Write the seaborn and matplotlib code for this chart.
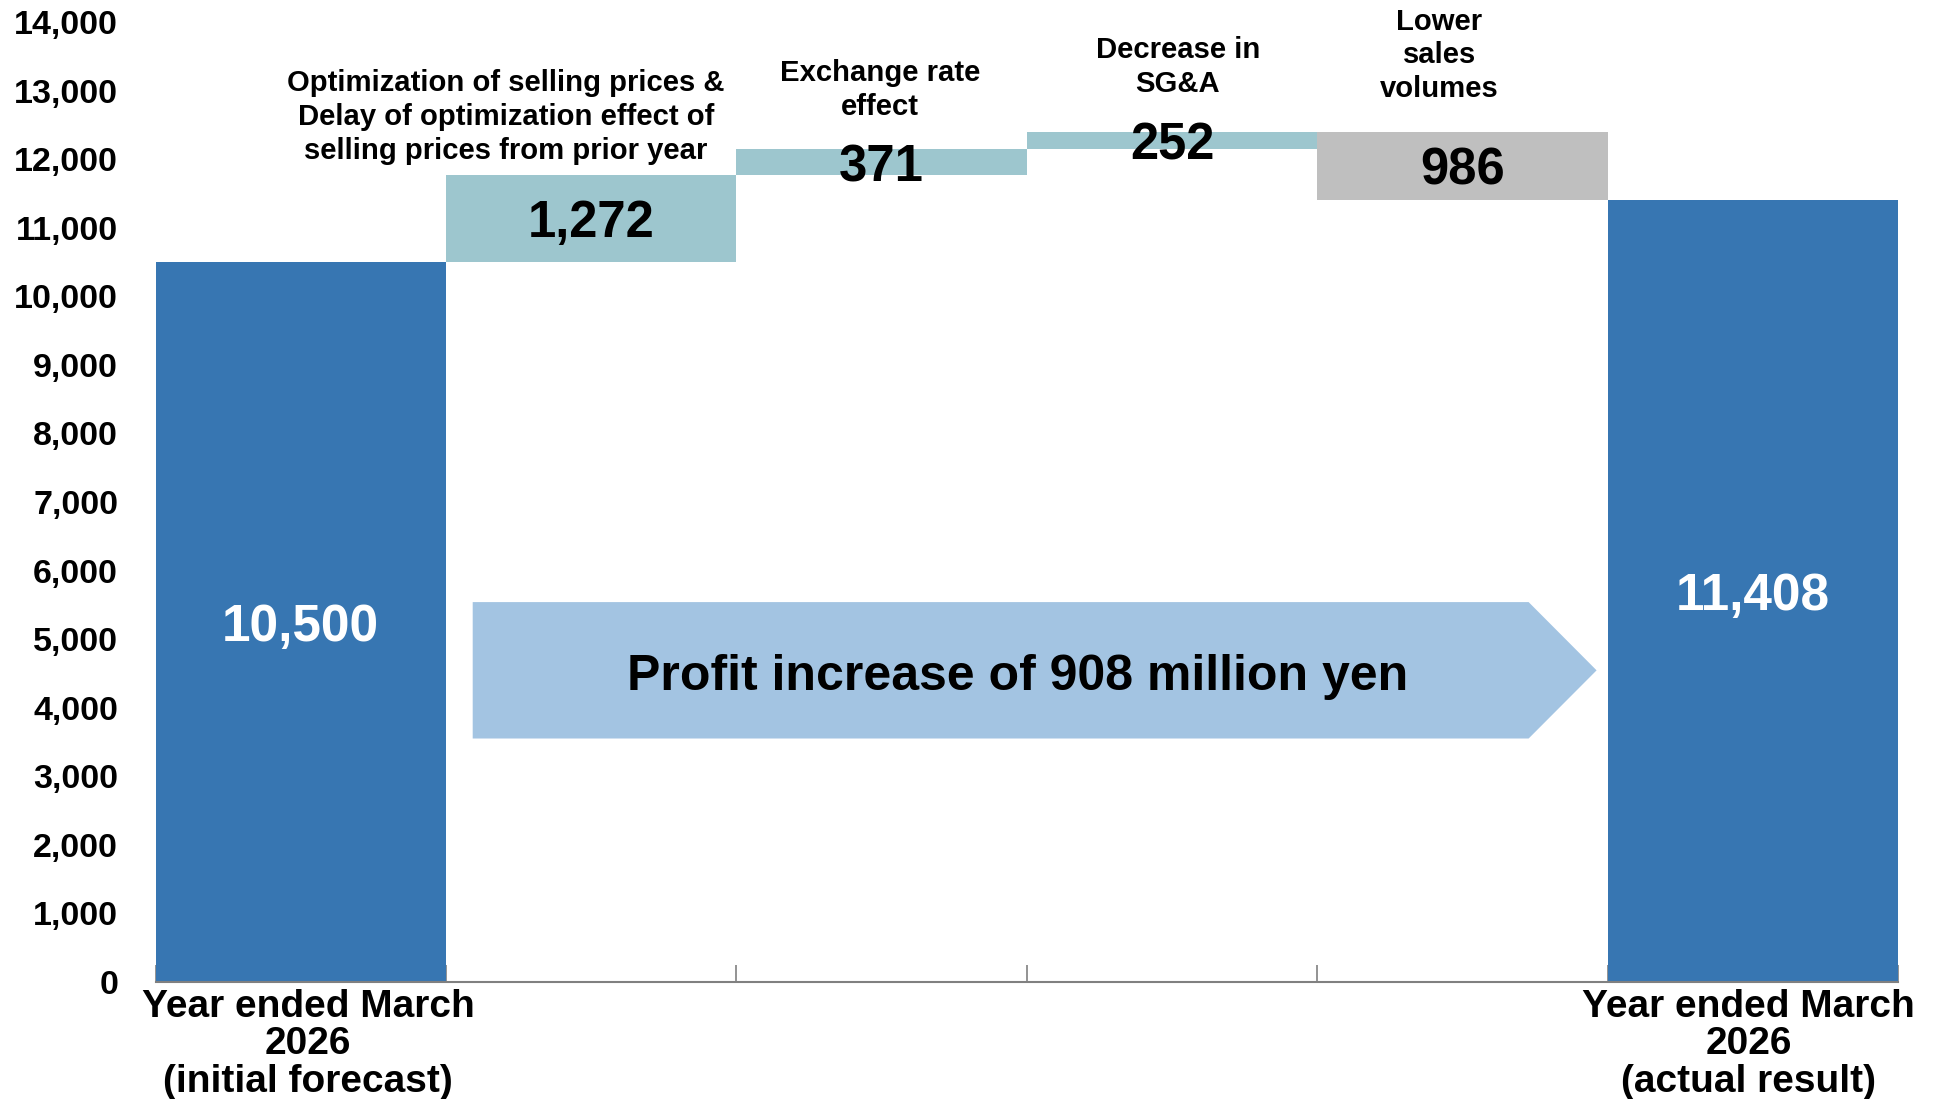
import matplotlib
matplotlib.use("Agg")
import matplotlib.pyplot as plt
import seaborn as sns
import pandas as pd
import numpy as np
from matplotlib.patches import Polygon
from matplotlib.ticker import FuncFormatter

# ---- data -------------------------------------------------------------
categories = ["initial", "price", "fx", "sga", "volume", "actual"]
start_value = 10500
change_values = [1272, 371, 252, -986]
end_value = 11408

change_notes = [
    "Optimization of selling prices &\nDelay of optimization effect of\nselling prices from prior year",
    "Exchange rate\neffect",
    "Decrease in\nSG&A",
    "Lower\nsales\nvolumes",
]
total_labels = ["Year ended March\n2026\n(initial forecast)",
                "Year ended March\n2026\n(actual result)"]
summary_text = "Profit increase of 908 million yen"
y_ticks = list(range(0, 14001, 1000))

# ---- colours ----------------------------------------------------------
total_color = "#3776b2"
up_color = "#9dc6ce"
down_color = "#bfbfbf"
arrow_color = "#a3c4e2"
axis_gray = "#808080"

# ---- waterfall table --------------------------------------------------
bottoms, heights, colors = [0], [start_value], [total_color]
running = start_value
for d in change_values:
    bottoms.append(min(running, running + d))
    heights.append(abs(d))
    colors.append(up_color if d >= 0 else down_color)
    running += d
bottoms.append(0)
heights.append(end_value)
colors.append(total_color)
df = pd.DataFrame({"category": categories, "bottom": bottoms, "height": heights})

sns.set_style("white")
plt.rcParams["font.family"] = ["Liberation Sans", "DejaVu Sans"]
plt.rcParams["font.weight"] = "bold"
plt.rcParams["text.color"] = "black"
plt.rcParams["xtick.labelcolor"] = "black"
plt.rcParams["ytick.labelcolor"] = "black"

fig = plt.figure(figsize=(19.35, 10.99), dpi=100)
ax = fig.add_axes([0.0804, 0.1065, 0.9005, 0.8735])

sns.barplot(data=df, x="category", y="height", order=categories,
            bottom=df["bottom"].to_numpy(), width=1.0, errorbar=None,
            color=total_color, saturation=1, linewidth=0, ax=ax)
for patch, c in zip(ax.patches, colors):
    patch.set_facecolor(c)
    patch.set_edgecolor("none")

ax.set_xlim(-0.5, 5.5)
ax.set_ylim(0, 14000)
ax.set_xlabel("")
ax.set_ylabel("")

# value labels
value_labels = [start_value] + [abs(d) for d in change_values] + [end_value]
for i, (b, h, v) in enumerate(zip(bottoms, heights, value_labels)):
    is_total = i in (0, len(categories) - 1)
    ax.text(i, b + h / 2, f"{v:,}", ha="center", va="center_baseline",
            fontsize=37 if is_total else 36.5, fontweight="bold",
            color="white" if is_total else "black", zorder=5)

# notes above the change bars
note_pos = [(0.707, 12615), (1.995, 13008), (3.02, 13350), (3.92, 13512)]
for (x, y), note in zip(note_pos, change_notes):
    ax.text(x, y, note, ha="center", va="center", fontsize=21.1,
            fontweight="bold", linespacing=1.27, color="black", zorder=5)

# summary arrow
arrow = Polygon([(0.182, 0.2536), (0.788, 0.2536), (0.827, 0.3246),
                 (0.788, 0.3957), (0.182, 0.3957)], closed=True,
                transform=ax.transAxes, facecolor=arrow_color,
                edgecolor="none", zorder=3)
ax.add_patch(arrow)
ax.text(0.495, 0.318, summary_text, transform=ax.transAxes, ha="center",
        va="center", fontsize=36, fontweight="bold", color="black", zorder=4)

# axes styling
for side in ("left", "top", "right"):
    ax.spines[side].set_visible(False)
ax.spines["bottom"].set_color(axis_gray)
ax.spines["bottom"].set_linewidth(1.5)

ax.set_yticks(y_ticks)
ax.yaxis.set_major_formatter(FuncFormatter(lambda v, _: f"{int(v):,}"))
ax.tick_params(axis="y", left=False, length=0, pad=27, labelsize=24.5,
               labelcolor="black")
for lbl in ax.get_yticklabels():
    lbl.set_fontweight("bold")

ax.set_xticks(np.arange(-0.5, 6.0, 1.0))
ax.set_xticklabels([])
ax.tick_params(axis="x", which="major", bottom=True, direction="in",
               length=12, width=1.2, color=axis_gray)
ax.set_xticks([0.025, 4.985], minor=True)
ax.set_xticklabels(total_labels, minor=True, fontsize=28, fontweight="bold",
                   linespacing=1.05, color="black")
ax.tick_params(axis="x", which="minor", bottom=True, length=0, pad=5)

fig.savefig("out.png", dpi=100)
